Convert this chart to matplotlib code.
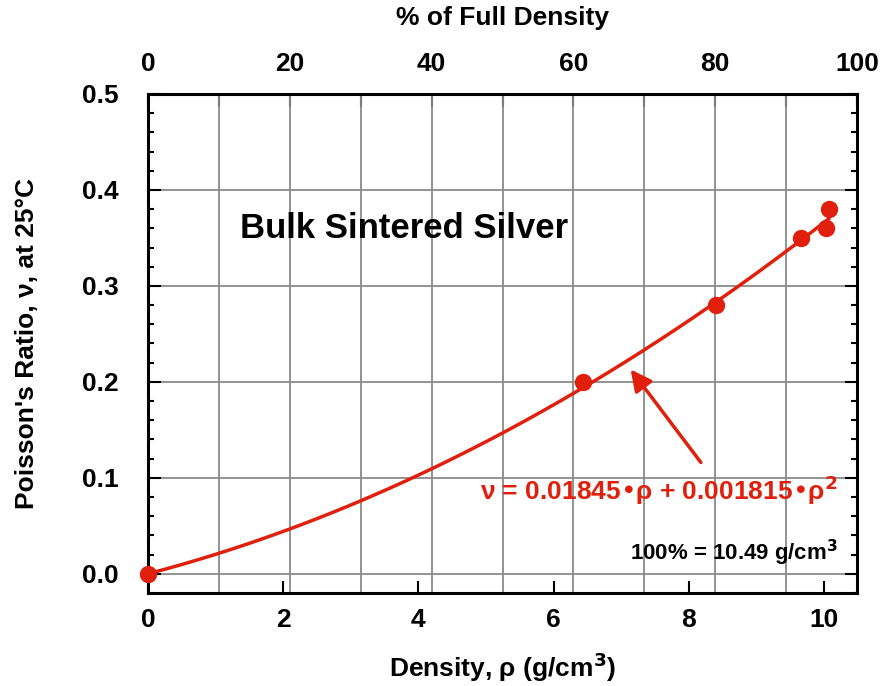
import matplotlib.pyplot as plt
import numpy as np
from matplotlib.ticker import MultipleLocator

plt.rcParams['font.family'] = ['Liberation Sans', 'DejaVu Sans']
plt.rcParams['font.weight'] = 'bold'

# measured points
density = [0.0, 6.44, 8.40, 9.66, 10.03, 10.07]
poisson = [0.0, 0.20, 0.28, 0.35, 0.36, 0.38]

# fit: nu = a*rho + b*rho^2
a, b = 0.01845, 0.001815
full_density = 10.49

pct_ticks = [0, 10, 20, 30, 40, 50, 60, 70, 80, 90, 100]
pct_labels = ['0', '', '20', '', '40', '', '60', '', '80', '', '100']
x_ticks = [0, 2, 4, 6, 8, 10]
y_ticks = [0.0, 0.1, 0.2, 0.3, 0.4, 0.5]
y_labels = ['0.0', '0.1', '0.2', '0.3', '0.4', '0.5']

red = '#E0200C'

fig = plt.figure(figsize=(8.81, 6.86), dpi=100)
ax = fig.add_axes([0.168, 0.1356, 0.8048, 0.7274])

ax.set_xlim(0, full_density)
ax.set_ylim(-0.02, 0.5)

# grid: vertical lines follow the % axis, horizontal ones every 0.1
for p in pct_ticks[1:-1]:
    ax.axvline(p / 100 * full_density, color='#8a8a8a', lw=1.3, zorder=1)
for yv in y_ticks[:-1]:
    ax.axhline(yv, color='#8a8a8a', lw=1.3, zorder=1)

rho = np.linspace(0, 10.07, 200)
ax.plot(rho, a * rho + b * rho**2, color=red, lw=2.5, zorder=3)
ax.plot(density, poisson, 'o', color=red, ms=11.5, zorder=4, clip_on=False)

ax.annotate('', xy=(7.14, 0.213), xytext=(8.18, 0.116),
            arrowprops=dict(arrowstyle='-|>', color=red, lw=2.5,
                            mutation_scale=32, shrinkA=0, shrinkB=0),
            zorder=5)

ax.text(10.2, 0.087, r'ν = 0.01845•ρ + 0.001815•ρ$^{\mathbf{2}}$', color=red,
        fontsize=19, fontweight='bold', ha='right', va='center', zorder=5)
ax.text(10.2, 0.022, r'100% = 10.49 g/cm$^{\mathbf{3}}$', color='black',
        fontsize=16, fontweight='bold', ha='right', va='center', zorder=5)
ax.text(1.36, 0.36, 'Bulk Sintered Silver', fontsize=25, fontweight='bold',
        ha='left', va='center', zorder=5)

ax.set_xticks(x_ticks)
ax.set_yticks(y_ticks)
ax.set_yticklabels(y_labels)
ax.yaxis.set_minor_locator(MultipleLocator(0.02))
ax.tick_params(axis='both', which='major', direction='in', length=9, width=1.5,
               labelsize=19)
ax.tick_params(axis='x', pad=11, top=False)
ax.tick_params(axis='y', which='both', right=True)
ax.tick_params(axis='y', which='major', pad=21)
ax.tick_params(axis='y', which='minor', direction='in', length=4.5, width=1.5)

for s in ax.spines.values():
    s.set_linewidth(2.2)

ax.set_xlabel(r'Density, ρ (g/cm$^{\mathbf{3}}$)', fontsize=19, fontweight='bold')
ax.set_ylabel('Poisson\'s Ratio, ν, at 25°C', fontsize=19, fontweight='bold')
ax.xaxis.set_label_coords(0.5, -0.115)
ax.yaxis.set_label_coords(-0.154, 0.5)

top = ax.secondary_xaxis('top', functions=(lambda r: r / full_density * 100,
                                           lambda p: p * full_density / 100))
top.set_xticks(pct_ticks)
top.set_xticklabels(pct_labels)
top.tick_params(direction='in', length=9, width=1.5, labelsize=19, pad=13)
fig.text(0.5703, 0.974, '% of Full Density', fontsize=19, fontweight='bold',
         ha='center', va='center')

fig.savefig('out.png', dpi=100)
